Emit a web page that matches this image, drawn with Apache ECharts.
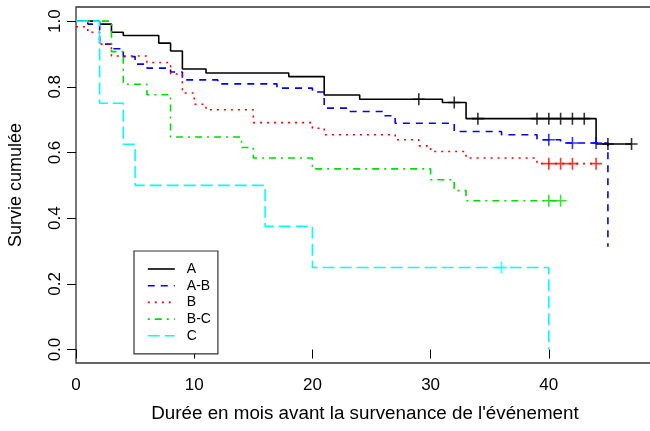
<!DOCTYPE html>
<html><head><meta charset="utf-8">
<script src="https://cdn.jsdelivr.net/npm/echarts@6/dist/echarts.min.js"></script>
<style>html,body{margin:0;padding:0;background:#fff}#c{width:650px;height:431px}</style>
</head><body><div id="c"></div>
<script>
// ---- data ----
const groupNames = ['A', 'A-B', 'B', 'B-C', 'C'];

const timesA = [0, 2, 3, 4, 7, 8, 9, 11, 18, 21, 24, 31, 33, 44, 47];
const survA  = [1, 0.991, 0.966, 0.956, 0.933, 0.909, 0.854, 0.842, 0.831, 0.775, 0.762, 0.752, 0.703, 0.626, 0.626];
const censorA = [29, 32, 34, 39, 40, 41, 42, 43, 45, 47];

const timesAB = [0, 1, 2, 3, 4, 5, 6, 8, 9, 12, 17, 20, 21, 23, 26, 27, 32, 36, 39, 41, 45];
const survAB  = [1, 0.991, 0.93, 0.916, 0.892, 0.869, 0.857, 0.845, 0.821, 0.809, 0.796, 0.784, 0.735, 0.725, 0.712, 0.689, 0.664, 0.654, 0.639, 0.629, 0.313];
const censorAB = [40, 42, 44];

const timesB = [0, 1, 2, 3, 6, 8, 9, 10, 11, 15, 20, 21, 27, 29, 30, 33, 39, 44];
const survB  = [0.983, 0.966, 0.930, 0.894, 0.874, 0.839, 0.781, 0.747, 0.730, 0.691, 0.674, 0.654, 0.639, 0.620, 0.603, 0.583, 0.566, 0.566];
const censorB = [40, 41, 42, 44];

const timesBC = [0, 3, 4, 6, 8, 14, 15, 20, 30, 32, 33, 41];
const survBC  = [1, 0.907, 0.808, 0.776, 0.647, 0.615, 0.583, 0.550, 0.517, 0.484, 0.453, 0.453];
const censorBC = [40, 41];

const timesC = [0, 2, 4, 5, 16, 20, 40];
const survC  = [1, 0.75, 0.625, 0.5, 0.375, 0.25, 0];
const censorC = [36];

const xTicks = [0, 10, 20, 30, 40];
const yTicks = [0, 0.2, 0.4, 0.6, 0.8, 1.0];

// ---- styles ----
const colors = ['#000000', '#0000FF', '#FF0000', '#00DD00', '#00FFFF'];
const dashes = ['solid', [7, 6], [2, 5], [2, 5, 7, 5], [12, 5]];
const font = "'Liberation Sans', Arial, Helvetica, sans-serif";

const groups = [
  [timesA, survA, censorA],
  [timesAB, survAB, censorAB],
  [timesB, survB, censorB],
  [timesBC, survBC, censorBC],
  [timesC, survC, censorC]
];

function survAt(times, surv, t) {
  let v = surv[0];
  for (let i = 0; i < times.length; i++) if (times[i] <= t) v = surv[i];
  return v;
}

const plus = 'path://M-0.8,-6 L0.8,-6 L0.8,6 L-0.8,6 Z M-6,-0.8 L6,-0.8 L6,0.8 L-6,0.8 Z';

const series = [];
groups.forEach((g, i) => {
  series.push({
    name: groupNames[i], type: 'line', step: 'end',
    data: g[0].map((t, k) => [t, g[1][k]]),
    symbol: 'none', showSymbol: false, silent: true,
    lineStyle: { color: colors[i], width: 1.6, type: dashes[i], cap: 'butt' },
    itemStyle: { color: colors[i] },
    z: 2 + i
  });
});
groups.forEach((g, i) => {
  series.push({
    name: groupNames[i] + ' censure', type: 'scatter',
    data: g[2].map(t => [t, survAt(g[0], g[1], t)]),
    symbol: plus, symbolSize: 12, silent: true,
    itemStyle: { color: colors[i] },
    z: 10 + i
  });
});

const chart = echarts.init(document.getElementById('c'), null, { renderer: 'canvas' });
chart.setOption({
  animation: false,
  backgroundColor: '#fff',
  textStyle: { fontFamily: font },
  grid: { left: 76, top: 7, width: 578, height: 356, show: true, borderColor: '#333', borderWidth: 1.3,
          backgroundColor: 'transparent', outerBoundsMode: 'none', containLabel: false },
  xAxis: {
    type: 'value', min: 0, max: 48.9,
    name: "Durée en mois avant la survenance de l'événement",
    nameLocation: 'middle', nameGap: 41,
    nameTextStyle: { fontSize: 18.8, color: '#000', fontFamily: font },
    axisLine: { show: false },
    axisTick: { show: true, length: 9, customValues: xTicks, lineStyle: { color: '#000', width: 1 } },
    axisLabel: { customValues: xTicks, fontSize: 17, color: '#000', margin: 14, fontFamily: font },
    splitLine: { show: false }
  },
  yAxis: {
    type: 'value', min: -0.041, max: 1.043,
    name: 'Survie cumulée',
    nameLocation: 'middle', nameGap: 51,
    nameTextStyle: { fontSize: 18, color: '#000', fontFamily: font },
    axisLine: { show: false },
    axisTick: { show: true, length: 9, customValues: yTicks, lineStyle: { color: '#000', width: 1 } },
    axisLabel: { customValues: yTicks, rotate: 90, fontSize: 17, color: '#000', margin: 12, fontFamily: font,
                 formatter: v => Number(v).toFixed(1) },
    splitLine: { show: false }
  },
  legend: {
    data: groupNames,
    orient: 'vertical', left: 134, top: 251,
    padding: [11, 7, 11, 13],
    itemWidth: 27, itemHeight: 14, itemGap: 2.7,
    itemStyle: { opacity: 0 },
    lineStyle: { width: 1.6 },
    borderColor: '#333', borderWidth: 1.2, backgroundColor: '#fff',
    textStyle: { fontSize: 14, color: '#000', fontFamily: font, padding: [0, 0, 0, 7] },
    selectedMode: false
  },
  series: series
});
</script>
</body></html>
